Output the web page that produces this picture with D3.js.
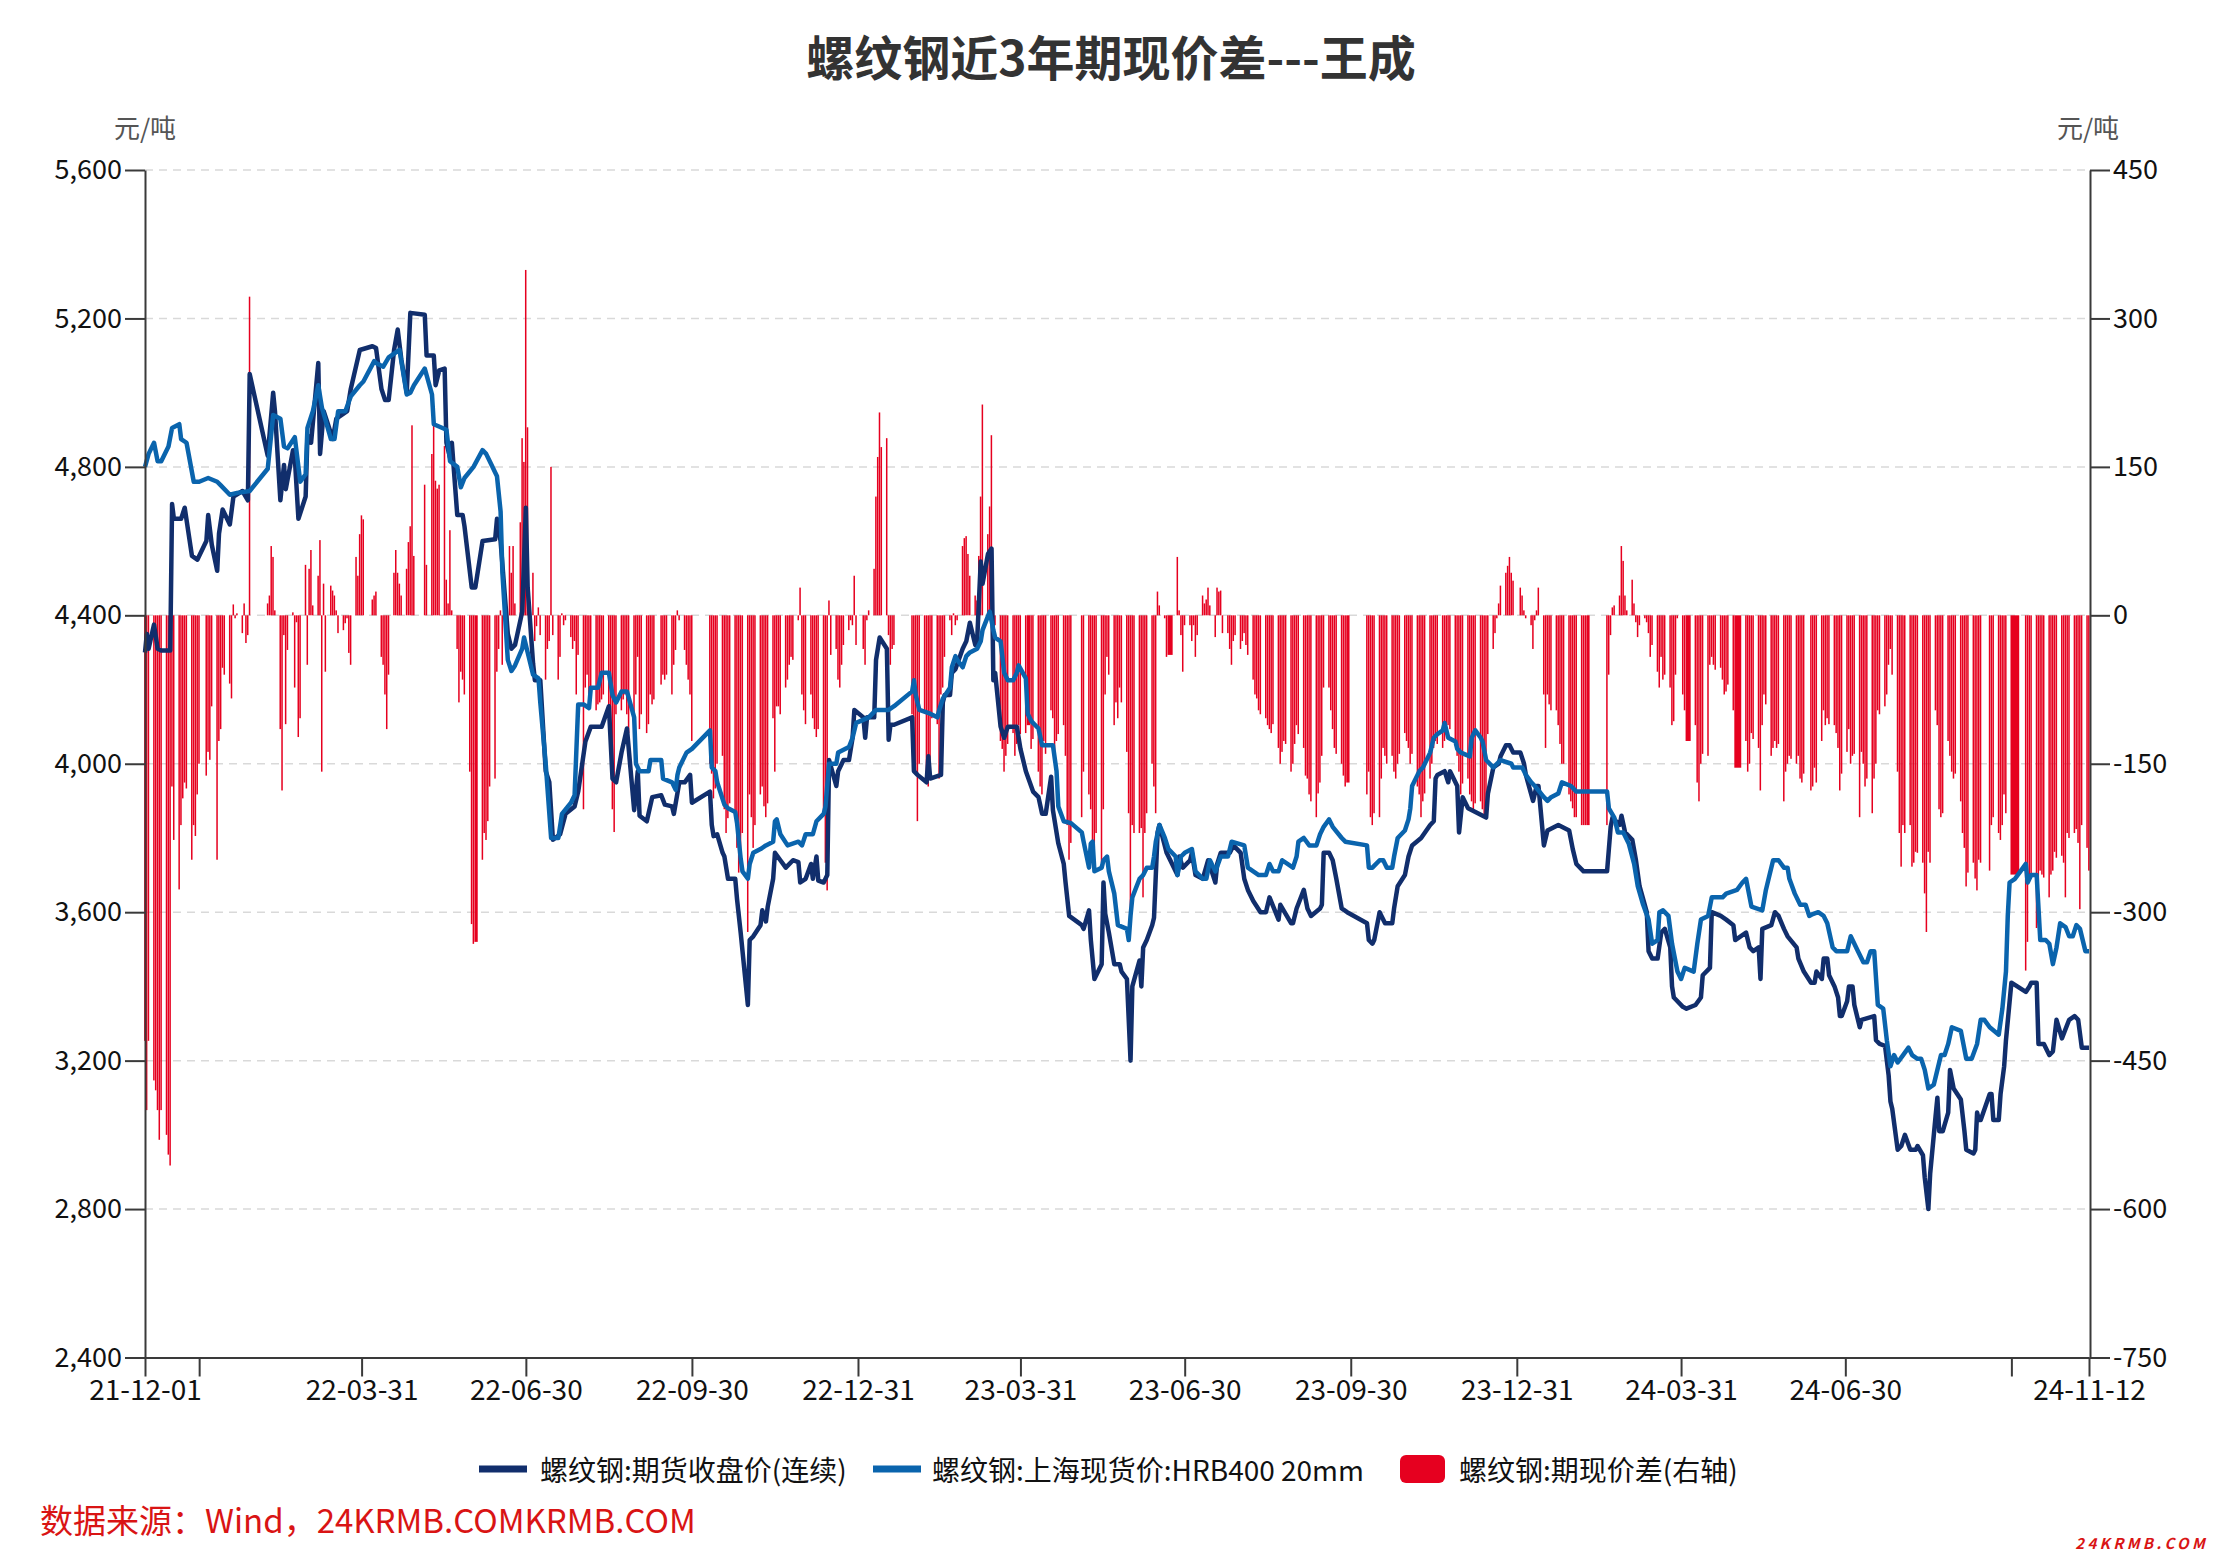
<!DOCTYPE html>
<html><head><meta charset="utf-8">
<script src="https://cdn.jsdelivr.net/npm/d3@7"></script>
<style>
body{margin:0;background:#fff}
svg{display:block}
text{font-family:"Noto Sans CJK SC","Noto Sans",sans-serif}
</style>
</head><body>
<svg id="chart" width="2222" height="1568"></svg>
<script>
// ---------------- DATA ----------------
const titleText = "螺纹钢近3年期现价差---王成";
const unitText = "元/吨";
const sourceText = "数据来源：Wind，24KRMB.COMKRMB.COM";
const watermarkText = "24KRMB.COM";
const seriesNames = ["螺纹钢:期货收盘价(连续)", "螺纹钢:上海现货价:HRB400 20mm", "螺纹钢:期现价差(右轴)"];
const leftTicks = [2400, 2800, 3200, 3600, 4000, 4400, 4800, 5200, 5600];
const rightTicks = [-750, -600, -450, -300, -150, 0, 150, 300, 450];
const xTickDates = ["21-12-01","21-12-31","22-03-31","22-06-30","22-09-30","22-12-31","23-03-31","23-06-30","23-09-30","23-12-31","24-03-31","24-06-30","24-09-30","24-11-12"];
const xTickLabels = ["21-12-01","","22-03-31","22-06-30","22-09-30","22-12-31","23-03-31","23-06-30","23-09-30","23-12-31","24-03-31","24-06-30","","24-11-12"];

// 螺纹钢:期货收盘价(连续)
const futures = [["21-12-01",4300],["21-12-02",4350],["21-12-03",4310],["21-12-06",4375],["21-12-08",4310],["21-12-10",4305],["21-12-15",4305],["21-12-16",4700],["21-12-17",4660],["21-12-21",4660],["21-12-23",4690],["21-12-27",4560],["21-12-30",4550],["22-01-04",4600],["22-01-05",4670],["22-01-07",4590],["22-01-10",4520],["22-01-11",4620],["22-01-13",4685],["22-01-17",4645],["22-01-19",4720],["22-01-24",4735],["22-01-27",4710],["22-01-28",5050],["22-02-07",4830],["22-02-10",5000],["22-02-11",4950],["22-02-14",4710],["22-02-16",4805],["22-02-17",4740],["22-02-21",4845],["22-02-22",4825],["22-02-24",4660],["22-02-28",4720],["22-03-01",4885],["22-03-03",4865],["22-03-07",5080],["22-03-08",4835],["22-03-10",4950],["22-03-15",4875],["22-03-17",4930],["22-03-23",4950],["22-03-25",5010],["22-03-30",5115],["22-04-06",5125],["22-04-08",5120],["22-04-11",5010],["22-04-13",4980],["22-04-15",4980],["22-04-18",5115],["22-04-20",5170],["22-04-22",5090],["22-04-25",5000],["22-04-27",5215],["22-05-05",5210],["22-05-06",5100],["22-05-10",5100],["22-05-11",5020],["22-05-13",5060],["22-05-16",5065],["22-05-17",4865],["22-05-19",4825],["22-05-20",4865],["22-05-23",4670],["22-05-26",4670],["22-05-27",4640],["22-05-31",4475],["22-06-02",4475],["22-06-06",4600],["22-06-13",4605],["22-06-14",4660],["22-06-16",4600],["22-06-20",4350],["22-06-22",4310],["22-06-24",4320],["22-06-28",4410],["22-06-30",4690],["22-07-01",4475],["22-07-04",4270],["22-07-05",4225],["22-07-08",4225],["22-07-11",3980],["22-07-13",3950],["22-07-15",3795],["22-07-19",3810],["22-07-22",3865],["22-07-27",3885],["22-07-29",3925],["22-08-02",4060],["22-08-05",4100],["22-08-11",4100],["22-08-15",4155],["22-08-17",3960],["22-08-19",3950],["22-08-22",4030],["22-08-25",4095],["22-08-29",3875],["22-08-31",3980],["22-09-01",3860],["22-09-05",3845],["22-09-08",3910],["22-09-13",3915],["22-09-15",3890],["22-09-19",3885],["22-09-20",3865],["22-09-23",3950],["22-09-26",3950],["22-09-29",3970],["22-09-30",3895],["22-10-10",3925],["22-10-11",3835],["22-10-12",3805],["22-10-14",3810],["22-10-17",3760],["22-10-18",3750],["22-10-20",3690],["22-10-24",3690],["22-10-25",3635],["22-10-27",3545],["22-10-31",3350],["22-11-01",3525],["22-11-03",3535],["22-11-07",3565],["22-11-08",3605],["22-11-10",3575],["22-11-11",3615],["22-11-14",3690],["22-11-15",3760],["22-11-18",3740],["22-11-21",3720],["22-11-25",3740],["22-11-28",3735],["22-11-29",3680],["22-12-02",3690],["22-12-05",3730],["22-12-06",3690],["22-12-08",3750],["22-12-09",3685],["22-12-12",3680],["22-12-14",3700],["22-12-15",4010],["22-12-19",3940],["22-12-20",3980],["22-12-23",4010],["22-12-26",4010],["22-12-28",4070],["22-12-29",4145],["23-01-03",4125],["23-01-04",4070],["23-01-05",4125],["23-01-09",4125],["23-01-10",4280],["23-01-12",4340],["23-01-16",4310],["23-01-17",4065],["23-01-18",4105],["23-01-20",4105],["23-01-30",4125],["23-01-31",3980],["23-02-02",3970],["23-02-07",3950],["23-02-08",4020],["23-02-09",3960],["23-02-15",3970],["23-02-16",4165],["23-02-17",4185],["23-02-20",4185],["23-02-21",4245],["23-02-23",4255],["23-02-27",4310],["23-03-01",4330],["23-03-03",4380],["23-03-06",4320],["23-03-07",4330],["23-03-09",4545],["23-03-10",4485],["23-03-13",4565],["23-03-15",4580],["23-03-16",4225],["23-03-17",4245],["23-03-20",4100],["23-03-22",4070],["23-03-24",4100],["23-03-29",4100],["23-03-31",4040],["23-04-03",3980],["23-04-07",3925],["23-04-10",3910],["23-04-12",3865],["23-04-14",3865],["23-04-17",3965],["23-04-18",3875],["23-04-21",3785],["23-04-24",3730],["23-04-25",3680],["23-04-27",3590],["23-05-04",3565],["23-05-05",3555],["23-05-08",3605],["23-05-09",3525],["23-05-11",3420],["23-05-15",3460],["23-05-16",3680],["23-05-17",3595],["23-05-19",3545],["23-05-22",3460],["23-05-25",3460],["23-05-26",3440],["23-05-29",3420],["23-05-31",3200],["23-06-01",3400],["23-06-05",3470],["23-06-06",3400],["23-06-07",3505],["23-06-09",3525],["23-06-12",3565],["23-06-13",3585],["23-06-15",3815],["23-06-16",3835],["23-06-20",3760],["23-06-26",3700],["23-06-27",3750],["23-06-29",3720],["23-07-03",3740],["23-07-04",3760],["23-07-06",3700],["23-07-10",3690],["23-07-13",3740],["23-07-17",3680],["23-07-18",3730],["23-07-20",3760],["23-07-25",3760],["23-07-27",3780],["23-07-31",3760],["23-08-02",3690],["23-08-04",3660],["23-08-07",3630],["23-08-11",3600],["23-08-14",3600],["23-08-16",3640],["23-08-21",3580],["23-08-22",3620],["23-08-28",3570],["23-08-29",3570],["23-08-31",3610],["23-09-04",3660],["23-09-06",3610],["23-09-08",3590],["23-09-13",3610],["23-09-14",3620],["23-09-15",3760],["23-09-18",3760],["23-09-20",3740],["23-09-22",3690],["23-09-25",3610],["23-09-28",3600],["23-10-09",3570],["23-10-10",3525],["23-10-12",3515],["23-10-13",3525],["23-10-16",3600],["23-10-17",3590],["23-10-19",3570],["23-10-23",3570],["23-10-24",3610],["23-10-26",3670],["23-10-30",3700],["23-11-01",3750],["23-11-03",3780],["23-11-08",3800],["23-11-13",3835],["23-11-15",3845],["23-11-16",3960],["23-11-17",3970],["23-11-21",3980],["23-11-23",3950],["23-11-24",3980],["23-11-28",3940],["23-11-29",3815],["23-12-01",3910],["23-12-04",3880],["23-12-14",3855],["23-12-15",3920],["23-12-18",3990],["23-12-21",4000],["23-12-22",4020],["23-12-25",4050],["23-12-27",4050],["23-12-29",4030],["24-01-02",4030],["24-01-04",4000],["24-01-05",3970],["24-01-09",3900],["24-01-11",3940],["24-01-12",3940],["24-01-15",3780],["24-01-17",3820],["24-01-23",3835],["24-01-29",3820],["24-01-31",3770],["24-02-02",3730],["24-02-06",3710],["24-02-08",3710],["24-02-19",3710],["24-02-21",3830],["24-02-22",3855],["24-02-26",3835],["24-02-27",3860],["24-02-29",3815],["24-03-04",3795],["24-03-06",3740],["24-03-08",3670],["24-03-12",3600],["24-03-13",3495],["24-03-15",3475],["24-03-18",3475],["24-03-20",3545],["24-03-22",3555],["24-03-25",3505],["24-03-26",3400],["24-03-27",3370],["24-04-01",3345],["24-04-03",3340],["24-04-08",3350],["24-04-11",3370],["24-04-12",3430],["24-04-16",3450],["24-04-17",3600],["24-04-22",3590],["24-04-25",3580],["24-04-29",3565],["24-04-30",3525],["24-05-06",3545],["24-05-08",3505],["24-05-10",3495],["24-05-13",3505],["24-05-14",3420],["24-05-15",3555],["24-05-20",3565],["24-05-22",3600],["24-05-24",3590],["24-05-27",3555],["24-05-29",3535],["24-06-03",3505],["24-06-04",3475],["24-06-07",3440],["24-06-11",3410],["24-06-13",3410],["24-06-14",3440],["24-06-17",3420],["24-06-18",3475],["24-06-20",3475],["24-06-21",3430],["24-06-24",3400],["24-06-26",3370],["24-06-27",3320],["24-06-28",3320],["24-07-01",3360],["24-07-02",3400],["24-07-04",3400],["24-07-05",3350],["24-07-08",3290],["24-07-09",3310],["24-07-16",3320],["24-07-17",3255],["24-07-19",3245],["24-07-22",3240],["24-07-24",3160],["24-07-25",3090],["24-07-26",3070],["24-07-29",2960],["24-07-31",2970],["24-08-02",3000],["24-08-05",2960],["24-08-06",2960],["24-08-08",2960],["24-08-09",2970],["24-08-12",2945],["24-08-13",2885],["24-08-15",2800],["24-08-16",2895],["24-08-19",3050],["24-08-20",3100],["24-08-21",3010],["24-08-23",3010],["24-08-26",3060],["24-08-27",3175],["24-08-29",3125],["24-09-02",3095],["24-09-04",3010],["24-09-05",2960],["24-09-09",2950],["24-09-10",2960],["24-09-11",3060],["24-09-12",3040],["24-09-13",3040],["24-09-18",3110],["24-09-19",3110],["24-09-20",3040],["24-09-23",3040],["24-09-24",3110],["24-09-26",3185],["24-09-27",3255],["24-09-30",3410],["24-10-08",3385],["24-10-10",3400],["24-10-11",3410],["24-10-14",3410],["24-10-15",3245],["24-10-18",3245],["24-10-21",3215],["24-10-23",3225],["24-10-25",3310],["24-10-28",3260],["24-11-01",3310],["24-11-04",3320],["24-11-06",3310],["24-11-08",3235],["24-11-12",3235]];

// 螺纹钢:上海现货价:HRB400 20mm
const spot = [["21-12-01",4800],["21-12-03",4835],["21-12-06",4865],["21-12-08",4815],["21-12-10",4815],["21-12-14",4855],["21-12-16",4905],["21-12-20",4915],["21-12-21",4875],["21-12-24",4865],["21-12-28",4760],["21-12-31",4760],["22-01-05",4770],["22-01-10",4760],["22-01-12",4750],["22-01-17",4725],["22-01-21",4730],["22-01-28",4735],["22-02-07",4795],["22-02-10",4940],["22-02-14",4930],["22-02-16",4855],["22-02-18",4850],["22-02-22",4880],["22-02-25",4760],["22-02-28",4780],["22-03-01",4905],["22-03-04",4950],["22-03-07",5020],["22-03-09",4960],["22-03-14",4875],["22-03-16",4875],["22-03-18",4950],["22-03-22",4950],["22-03-25",4990],["22-03-30",5020],["22-04-01",5030],["22-04-07",5085],["22-04-08",5080],["22-04-12",5070],["22-04-15",5095],["22-04-21",5115],["22-04-25",4995],["22-04-27",5000],["22-04-29",5020],["22-05-05",5065],["22-05-09",4995],["22-05-10",4915],["22-05-17",4900],["22-05-19",4815],["22-05-23",4800],["22-05-25",4745],["22-05-27",4770],["22-06-01",4800],["22-06-06",4845],["22-06-08",4835],["22-06-10",4815],["22-06-14",4775],["22-06-16",4680],["22-06-17",4515],["22-06-20",4280],["22-06-22",4250],["22-06-24",4265],["22-06-28",4310],["22-06-29",4340],["22-07-01",4300],["22-07-04",4240],["22-07-07",4230],["22-07-08",4165],["22-07-11",4000],["22-07-14",3800],["22-07-18",3800],["22-07-20",3865],["22-07-25",3895],["22-07-27",3915],["22-07-29",4160],["22-08-01",4160],["22-08-04",4150],["22-08-05",4205],["22-08-09",4205],["22-08-11",4245],["22-08-15",4245],["22-08-17",4185],["22-08-19",4165],["22-08-22",4195],["22-08-25",4195],["22-08-29",4125],["22-08-30",4000],["22-09-01",3980],["22-09-06",3980],["22-09-07",4010],["22-09-13",4010],["22-09-14",3960],["22-09-19",3950],["22-09-21",3930],["22-09-22",3970],["22-09-23",3990],["22-09-27",4030],["22-09-30",4040],["22-10-10",4090],["22-10-11",3990],["22-10-13",3980],["22-10-14",3950],["22-10-18",3890],["22-10-20",3880],["22-10-24",3870],["22-10-25",3840],["22-10-27",3745],["22-10-28",3710],["22-10-31",3690],["22-11-01",3730],["22-11-03",3760],["22-11-07",3770],["22-11-10",3780],["22-11-14",3790],["22-11-15",3845],["22-11-16",3850],["22-11-18",3810],["22-11-22",3780],["22-11-28",3790],["22-11-30",3780],["22-12-02",3810],["22-12-06",3810],["22-12-08",3845],["22-12-12",3865],["22-12-13",3885],["22-12-15",4000],["22-12-19",4000],["22-12-20",4030],["22-12-26",4045],["22-12-28",4070],["22-12-30",4110],["23-01-06",4125],["23-01-10",4145],["23-01-17",4145],["23-01-20",4155],["23-01-30",4195],["23-01-31",4225],["23-02-01",4185],["23-02-03",4145],["23-02-09",4135],["23-02-13",4125],["23-02-14",4145],["23-02-16",4175],["23-02-20",4205],["23-02-21",4260],["23-02-23",4290],["23-02-24",4280],["23-02-27",4260],["23-03-01",4290],["23-03-03",4300],["23-03-07",4310],["23-03-09",4330],["23-03-10",4360],["23-03-14",4410],["23-03-16",4360],["23-03-17",4340],["23-03-20",4330],["23-03-22",4245],["23-03-24",4225],["23-03-27",4225],["23-03-29",4245],["23-03-30",4265],["23-04-03",4230],["23-04-04",4135],["23-04-06",4115],["23-04-10",4095],["23-04-12",4050],["23-04-18",4050],["23-04-20",3980],["23-04-21",3885],["23-04-24",3845],["23-04-28",3840],["23-05-04",3815],["23-05-05",3790],["23-05-08",3720],["23-05-09",3785],["23-05-10",3790],["23-05-11",3710],["23-05-15",3720],["23-05-16",3740],["23-05-18",3750],["23-05-19",3710],["23-05-22",3650],["23-05-24",3565],["23-05-29",3555],["23-05-30",3525],["23-05-31",3590],["23-06-01",3640],["23-06-05",3690],["23-06-07",3700],["23-06-09",3720],["23-06-12",3720],["23-06-13",3750],["23-06-14",3790],["23-06-16",3835],["23-06-19",3800],["23-06-21",3770],["23-06-25",3750],["23-06-26",3700],["23-06-28",3750],["23-06-30",3760],["23-07-04",3770],["23-07-06",3710],["23-07-10",3690],["23-07-12",3690],["23-07-14",3740],["23-07-17",3710],["23-07-20",3750],["23-07-24",3750],["23-07-26",3790],["23-08-02",3780],["23-08-04",3720],["23-08-07",3710],["23-08-10",3700],["23-08-14",3700],["23-08-16",3730],["23-08-18",3710],["23-08-21",3710],["23-08-23",3740],["23-08-29",3720],["23-08-31",3750],["23-09-01",3790],["23-09-04",3800],["23-09-07",3780],["23-09-11",3780],["23-09-13",3810],["23-09-15",3830],["23-09-18",3850],["23-09-20",3830],["23-09-25",3800],["23-09-27",3790],["23-10-09",3780],["23-10-10",3720],["23-10-12",3720],["23-10-16",3740],["23-10-18",3740],["23-10-20",3720],["23-10-23",3720],["23-10-24",3750],["23-10-26",3800],["23-10-30",3820],["23-11-01",3850],["23-11-02",3880],["23-11-03",3940],["23-11-06",3970],["23-11-07",3980],["23-11-09",3990],["23-11-13",4030],["23-11-15",4070],["23-11-17",4080],["23-11-20",4090],["23-11-21",4110],["23-11-23",4070],["23-11-27",4060],["23-11-28",4040],["23-11-30",4030],["23-12-05",4020],["23-12-06",4070],["23-12-08",4090],["23-12-11",4070],["23-12-12",4060],["23-12-14",4010],["23-12-18",3990],["23-12-20",4000],["23-12-22",4010],["23-12-28",4000],["23-12-29",3990],["24-01-03",3990],["24-01-05",3970],["24-01-08",3950],["24-01-10",3940],["24-01-15",3910],["24-01-17",3900],["24-01-19",3910],["24-01-23",3920],["24-01-25",3950],["24-01-30",3940],["24-02-02",3925],["24-02-19",3925],["24-02-20",3880],["24-02-23",3855],["24-02-25",3815],["24-02-28",3815],["24-03-02",3785],["24-03-05",3730],["24-03-07",3670],["24-03-10",3620],["24-03-13",3580],["24-03-15",3515],["24-03-18",3525],["24-03-19",3600],["24-03-21",3605],["24-03-24",3590],["24-03-26",3515],["24-03-29",3440],["24-03-31",3420],["24-04-02",3450],["24-04-07",3440],["24-04-09",3515],["24-04-11",3580],["24-04-15",3590],["24-04-17",3640],["24-04-23",3640],["24-04-25",3650],["24-05-01",3660],["24-05-04",3680],["24-05-06",3690],["24-05-09",3615],["24-05-15",3605],["24-05-17",3660],["24-05-19",3700],["24-05-21",3740],["24-05-24",3740],["24-05-27",3720],["24-05-29",3720],["24-05-30",3690],["24-06-02",3650],["24-06-05",3620],["24-06-08",3620],["24-06-10",3590],["24-06-12",3595],["24-06-15",3600],["24-06-18",3590],["24-06-20",3570],["24-06-23",3505],["24-06-25",3495],["24-07-01",3495],["24-07-03",3535],["24-07-04",3525],["24-07-07",3495],["24-07-10",3465],["24-07-12",3465],["24-07-14",3495],["24-07-16",3495],["24-07-18",3350],["24-07-21",3340],["24-07-23",3255],["24-07-25",3185],["24-07-27",3215],["24-07-29",3195],["24-08-01",3215],["24-08-04",3235],["24-08-06",3215],["24-08-09",3205],["24-08-11",3205],["24-08-13",3175],["24-08-15",3125],["24-08-18",3135],["24-08-20",3175],["24-08-22",3215],["24-08-24",3215],["24-08-26",3245],["24-08-28",3290],["24-09-02",3280],["24-09-05",3205],["24-09-08",3205],["24-09-11",3245],["24-09-13",3310],["24-09-15",3310],["24-09-18",3290],["24-09-23",3270],["24-09-25",3340],["24-09-27",3440],["24-09-28",3590],["24-09-29",3680],["24-10-02",3690],["24-10-05",3710],["24-10-08",3730],["24-10-09",3680],["24-10-11",3700],["24-10-14",3700],["24-10-16",3525],["24-10-19",3525],["24-10-21",3515],["24-10-23",3460],["24-10-25",3505],["24-10-27",3570],["24-10-30",3560],["24-11-01",3535],["24-11-03",3535],["24-11-05",3565],["24-11-07",3555],["24-11-10",3495],["24-11-12",3495]];

// 螺纹钢:期现价差(右轴)
const spread = [["21-12-01",-430],["21-12-02",-500],["21-12-03",-430],["21-12-06",-470],["21-12-07",-480],["21-12-08",-500],["21-12-09",-530],["21-12-10",-500],["21-12-13",-525],["21-12-14",-545],["21-12-15",-556],["21-12-16",-173],["21-12-17",-227],["21-12-20",-277],["21-12-21",-212],["21-12-22",-185],["21-12-23",-169],["21-12-24",-175],["21-12-27",-247],["21-12-28",-212],["21-12-29",-223],["21-12-30",-181],["21-12-31",-150],
["22-01-04",-162],["22-01-05",-138],["22-01-06",-146],["22-01-07",-92],["22-01-10",-247],["22-01-11",-127],["22-01-12",-115],["22-01-13",-53],["22-01-14",-60],["22-01-17",-69],["22-01-18",-84],["22-01-19",11],["22-01-20",-3],["22-01-21",2],["22-01-24",-18],["22-01-25",12],["22-01-26",-28],["22-01-27",-20],["22-01-28",322],
["22-02-07",12],["22-02-08",20],["22-02-09",70],["22-02-10",59],["22-02-11",5],["22-02-14",-115],["22-02-15",-177],["22-02-16",-20],["22-02-17",-110],["22-02-18",-35],["22-02-21",3],["22-02-22",-73],["22-02-23",-7],["22-02-24",-123],["22-02-25",-104],["22-02-28",51],
["22-03-01",-50],["22-03-02",47],["22-03-03",66],["22-03-04",10],["22-03-07",40],["22-03-08",76],["22-03-09",-158],["22-03-10",32],["22-03-11",-57],["22-03-14",30],["22-03-15",25],["22-03-16",20],["22-03-17",5],["22-03-18",-18],["22-03-21",-15],["22-03-22",-8],["22-03-23",-3],["22-03-24",-38],["22-03-25",-50],["22-03-28",59],["22-03-29",40],["22-03-30",82],["22-03-31",101],
["22-04-01",97],["22-04-06",16],["22-04-07",20],["22-04-08",24],["22-04-11",-42],["22-04-12",-50],["22-04-13",-80],["22-04-14",-115],["22-04-15",-60],["22-04-18",43],["22-04-19",66],["22-04-20",43],["22-04-21",32],["22-04-22",20],["22-04-25",47],["22-04-26",74],["22-04-27",90],["22-04-28",192],["22-04-29",60],
["22-05-05",132],["22-05-06",51],["22-05-09",163],["22-05-10",194],["22-05-11",136],["22-05-12",128],["22-05-13",132],["22-05-16",171],["22-05-17",36],["22-05-18",12],["22-05-19",86],["22-05-20",5],["22-05-23",-34],["22-05-24",-88],["22-05-25",-57],["22-05-26",-65],["22-05-27",-80],["22-05-30",-158],["22-05-31",-312],
["22-06-01",-332],["22-06-02",-330],["22-06-06",-247],["22-06-07",-220],["22-06-08",-227],["22-06-09",-208],["22-06-10",-173],["22-06-13",-165],["22-06-14",-57],["22-06-15",-34],["22-06-16",5],["22-06-17",-50],["22-06-20",-19],["22-06-21",70],["22-06-22",43],["22-06-23",70],["22-06-24",12],["22-06-27",94],["22-06-28",179],["22-06-29",155],["22-06-30",349],
["22-07-01",190],["22-07-04",43],["22-07-05",-26],["22-07-06",-11],["22-07-07",8],["22-07-08",-20],["22-07-11",-65],["22-07-12",-34],["22-07-13",-26],["22-07-14",150],["22-07-15",-20],["22-07-18",-65],["22-07-19",-42],["22-07-20",2],["22-07-21",-10],["22-07-22",-5],["22-07-25",-22],["22-07-26",-34],["22-07-27",-26],["22-07-28",-80],["22-07-29",-40],
["22-08-01",-196],["22-08-02",-73],["22-08-03",-60],["22-08-04",-80],["22-08-05",-75],["22-08-08",-96],["22-08-09",-90],["22-08-10",-88],["22-08-11",-85],["22-08-12",-80],["22-08-15",-96],["22-08-16",-120],["22-08-17",-196],["22-08-18",-219],["22-08-19",-100],["22-08-22",-96],["22-08-23",-85],["22-08-24",-80],["22-08-25",-100],["22-08-26",-119],["22-08-29",-111],["22-08-30",-80],["22-08-31",-42],
["22-09-01",-115],["22-09-02",-100],["22-09-05",-119],["22-09-06",-110],["22-09-07",-80],["22-09-08",-90],["22-09-09",-85],["22-09-13",-70],["22-09-14",-60],["22-09-15",-65],["22-09-16",-60],["22-09-19",-80],["22-09-20",-50],["22-09-21",-35],["22-09-22",5],["22-09-23",-5],["22-09-26",-35],["22-09-27",-50],["22-09-28",-65],["22-09-29",-80],["22-09-30",-127],
["22-10-10",-150],["22-10-11",-160],["22-10-12",-185],["22-10-13",-175],["22-10-14",-150],["22-10-17",-142],["22-10-18",-196],["22-10-19",-220],["22-10-20",-205],["22-10-21",-190],["22-10-24",-205],["22-10-25",-235],["22-10-26",-260],["22-10-27",-250],["22-10-28",-220],["22-10-31",-320],
["22-11-01",-181],["22-11-02",-204],["22-11-03",-235],["22-11-04",-212],["22-11-07",-181],["22-11-08",-173],["22-11-09",-193],["22-11-10",-204],["22-11-11",-190],["22-11-14",-104],["22-11-15",-158],["22-11-16",-92],["22-11-17",-92],["22-11-18",-100],["22-11-21",-73],["22-11-22",-65],["22-11-23",-50],["22-11-24",-42],["22-11-25",-45],["22-11-28",-5],["22-11-29",28],["22-11-30",-80],
["22-12-01",-96],["22-12-02",-110],["22-12-05",-80],["22-12-06",-104],["22-12-07",-115],["22-12-08",-123],["22-12-09",-115],["22-12-12",-200],["22-12-13",-250],["22-12-14",-278],["22-12-15",15],["22-12-16",-40],["22-12-19",-34],["22-12-20",-65],["22-12-21",-73],["22-12-22",-50],["22-12-23",-30],["22-12-26",-15],["22-12-27",-5],["22-12-28",-10],["22-12-29",40],["22-12-30",-30],
["23-01-03",-34],["23-01-04",-50],["23-01-05",-5],["23-01-06",5],["23-01-09",47],["23-01-10",120],["23-01-11",160],["23-01-12",205],["23-01-13",170],["23-01-16",179],["23-01-17",-20],["23-01-18",-50],["23-01-19",-34],["23-01-20",-30],["23-01-30",-100],["23-01-31",-130],
["23-02-01",-160],["23-02-02",-208],["23-02-03",-150],["23-02-06",-96],["23-02-07",-165],["23-02-08",-173],["23-02-09",-150],["23-02-10",-104],["23-02-13",-110],["23-02-14",-165],["23-02-15",-80],["23-02-16",-73],["23-02-17",-42],["23-02-20",-5],["23-02-21",-20],["23-02-22",2],["23-02-23",-10],["23-02-24",-5],["23-02-27",70],["23-02-28",78],
["23-03-01",80],["23-03-02",62],["23-03-03",40],["23-03-06",20],["23-03-07",15],["23-03-08",60],["23-03-09",120],["23-03-10",213],["23-03-13",82],["23-03-14",110],["23-03-15",182],["23-03-16",-5],["23-03-17",-10],["23-03-20",-127],["23-03-21",-135],["23-03-22",-158],["23-03-23",-142],["23-03-24",-130],["23-03-27",-119],["23-03-28",-142],["23-03-29",-130],["23-03-30",-111],["23-03-31",-120],
["23-04-03",-119],["23-04-04",-111],["23-04-06",-135],["23-04-07",-125],["23-04-10",-158],["23-04-11",-173],["23-04-12",-181],["23-04-13",-127],["23-04-14",-140],["23-04-17",-96],["23-04-18",-104],["23-04-19",-138],["23-04-20",-127],["23-04-21",-120],["23-04-24",-111],["23-04-25",-142],["23-04-26",-212],["23-04-27",-247],["23-04-28",-230],
["23-05-04",-204],["23-05-05",-158],["23-05-08",-181],["23-05-09",-196],["23-05-10",-227],["23-05-11",-235],["23-05-12",-220],["23-05-15",-250],["23-05-16",-196],["23-05-17",-80],["23-05-18",-42],["23-05-19",-60],["23-05-22",-111],["23-05-23",-88],["23-05-24",-104],["23-05-25",-73],["23-05-26",-88],["23-05-29",-138],["23-05-30",-200],["23-05-31",-312],
["23-06-01",-212],["23-06-02",-220],["23-06-05",-220],["23-06-06",-215],["23-06-07",-285],["23-06-08",-220],["23-06-09",-200],["23-06-12",-150],["23-06-13",-173],["23-06-14",-200],["23-06-15",24],["23-06-16",10],["23-06-19",-3],["23-06-20",-42],["23-06-21",-40],["23-06-26",59],["23-06-27",5],["23-06-28",-20],["23-06-29",-57],["23-06-30",-10],
["23-07-03",-10],["23-07-04",-26],["23-07-05",-10],["23-07-06",-42],["23-07-07",-20],["23-07-10",20],["23-07-11",12],["23-07-12",16],["23-07-13",28],["23-07-14",10],["23-07-17",-22],["23-07-18",28],["23-07-19",24],["23-07-20",25],["23-07-21",-18],["23-07-24",-18],["23-07-25",-34],["23-07-26",-50],["23-07-27",-26],["23-07-28",-20],["23-07-31",-34],
["23-08-01",-26],["23-08-02",-18],["23-08-03",-30],["23-08-04",-40],["23-08-07",-65],["23-08-08",-80],["23-08-09",-84],["23-08-10",-96],["23-08-11",-100],["23-08-14",-104],["23-08-15",-111],["23-08-16",-115],["23-08-17",-119],["23-08-18",-110],["23-08-21",-134],["23-08-22",-150],["23-08-23",-138],["23-08-24",-127],["23-08-25",-130],["23-08-28",-158],["23-08-29",-150],["23-08-30",-130],["23-08-31",-111],
["23-09-01",-120],["23-09-04",-134],["23-09-05",-162],["23-09-06",-165],["23-09-07",-181],["23-09-08",-188],["23-09-11",-204],["23-09-12",-180],["23-09-13",-169],["23-09-14",-142],["23-09-15",-73],["23-09-18",-73],["23-09-19",-96],["23-09-20",-115],["23-09-21",-134],["23-09-22",-140],["23-09-25",-150],["23-09-26",-162],["23-09-27",-173],["23-09-28",-169],
["23-10-09",-181],["23-10-10",-158],["23-10-11",-204],["23-10-12",-212],["23-10-13",-200],["23-10-16",-204],["23-10-17",-165],["23-10-18",-134],["23-10-19",-142],["23-10-20",-150],["23-10-23",-142],["23-10-24",-158],["23-10-25",-165],["23-10-26",-150],["23-10-27",-140],["23-10-30",-119],["23-10-31",-127],
["23-11-01",-134],["23-11-02",-150],["23-11-03",-140],["23-11-06",-173],["23-11-07",-181],["23-11-08",-204],["23-11-09",-188],["23-11-10",-180],["23-11-13",-165],["23-11-14",-150],["23-11-15",-134],["23-11-16",-127],["23-11-17",-130],["23-11-20",-134],["23-11-21",-127],["23-11-22",-119],["23-11-23",-111],["23-11-24",-115],["23-11-27",-127],["23-11-28",-142],["23-11-29",-158],["23-11-30",-181],
["23-12-01",-170],["23-12-04",-165],["23-12-05",-181],["23-12-06",-188],["23-12-07",-196],["23-12-08",-190],["23-12-11",-188],["23-12-12",-196],["23-12-13",-204],["23-12-14",-196],["23-12-15",-120],["23-12-18",-34],["23-12-19",-18],["23-12-20",-3],["23-12-21",12],["23-12-22",30],["23-12-25",43],["23-12-26",50],["23-12-27",59],["23-12-28",43],["23-12-29",35],
["24-01-02",28],["24-01-03",20],["24-01-04",5],["24-01-05",-3],["24-01-08",-10],["24-01-09",-34],["24-01-10",-5],["24-01-11",5],["24-01-12",28],["24-01-15",-80],["24-01-16",-134],["24-01-17",-80],["24-01-18",-90],["24-01-19",-96],["24-01-22",-96],["24-01-23",-111],["24-01-24",-130],["24-01-25",-150],["24-01-26",-150],["24-01-29",-181],["24-01-30",-188],["24-01-31",-195],
["24-02-01",-204],["24-02-02",-204],["24-02-05",-212],["24-02-06",-212],["24-02-07",-212],["24-02-08",-212],["24-02-19",-212],["24-02-20",-60],["24-02-21",-20],["24-02-22",8],["24-02-23",10],["24-02-26",20],["24-02-27",70],["24-02-28",55],["24-02-29",20],
["24-03-01",5],["24-03-04",36],["24-03-05",12],["24-03-06",-7],["24-03-07",-22],["24-03-08",-10],["24-03-11",-3],["24-03-12",-7],["24-03-13",-18],["24-03-14",-42],["24-03-15",-30],["24-03-18",-57],["24-03-19",-73],["24-03-20",-42],["24-03-21",-65],["24-03-22",-60],["24-03-25",-73],["24-03-26",-111],["24-03-27",-107],["24-03-28",-60],["24-03-29",-3],
["24-04-01",-80],["24-04-02",-96],["24-04-03",-127],["24-04-08",-111],["24-04-09",-169],["24-04-10",-188],["24-04-11",-150],["24-04-12",-140],["24-04-15",-142],["24-04-16",-50],["24-04-17",-42],["24-04-18",-50],["24-04-19",-55],["24-04-22",-53],["24-04-23",-65],["24-04-24",-80],["24-04-25",-77],["24-04-26",-70],["24-04-29",-96],["24-04-30",-154],
["24-05-06",-127],["24-05-07",-158],["24-05-08",-150],["24-05-09",-119],["24-05-10",-125],["24-05-13",-134],["24-05-14",-177],["24-05-15",-111],["24-05-16",-80],["24-05-17",-90],["24-05-20",-142],["24-05-21",-134],["24-05-22",-127],["24-05-23",-134],["24-05-24",-130],["24-05-27",-188],["24-05-28",-158],["24-05-29",-150],["24-05-30",-142],["24-05-31",-145],
["24-06-03",-150],["24-06-04",-142],["24-06-05",-165],["24-06-06",-169],["24-06-07",-160],["24-06-11",-177],["24-06-12",-173],["24-06-13",-154],["24-06-14",-169],["24-06-17",-127],["24-06-18",-96],["24-06-19",-111],["24-06-20",-104],["24-06-21",-110],["24-06-24",-111],["24-06-25",-119],["24-06-26",-134],["24-06-27",-177],["24-06-28",-160],
["24-07-01",-138],["24-07-02",-115],["24-07-03",-150],["24-07-04",-142],["24-07-05",-140],["24-07-08",-204],["24-07-09",-138],["24-07-10",-150],["24-07-11",-173],["24-07-12",-165],["24-07-15",-200],["24-07-16",-165],["24-07-17",-150],["24-07-18",-96],["24-07-19",-100],["24-07-22",-92],["24-07-23",-80],["24-07-24",-50],["24-07-25",-34],["24-07-26",-60],["24-07-29",-158],["24-07-30",-220],["24-07-31",-254],
["24-08-01",-212],["24-08-02",-220],["24-08-05",-212],["24-08-06",-254],["24-08-07",-250],["24-08-08",-239],["24-08-09",-240],["24-08-12",-250],["24-08-13",-281],["24-08-14",-320],["24-08-15",-239],["24-08-16",-250],["24-08-19",-96],["24-08-20",-111],["24-08-21",-196],["24-08-22",-204],["24-08-23",-200],["24-08-26",-127],["24-08-27",-142],["24-08-28",-158],["24-08-29",-165],["24-08-30",-160],
["24-09-02",-188],["24-09-03",-220],["24-09-04",-235],["24-09-05",-274],["24-09-06",-260],["24-09-09",-250],["24-09-10",-266],["24-09-11",-278],["24-09-12",-247],["24-09-13",-250],["24-09-18",-258],["24-09-19",-212],["24-09-20",-204],["24-09-23",-220],["24-09-24",-227],["24-09-25",-212],["24-09-26",-181],["24-09-27",-200],["24-09-30",-262],
["24-10-08",-359],["24-10-09",-330],["24-10-10",-270],["24-10-11",-265],["24-10-14",-316],["24-10-15",-274],["24-10-16",-258],["24-10-17",-262],["24-10-18",-265],["24-10-21",-285],["24-10-22",-262],["24-10-23",-258],["24-10-24",-239],["24-10-25",-245],["24-10-28",-243],["24-10-29",-250],["24-10-30",-285],["24-10-31",-220],
["24-11-01",-225],["24-11-04",-220],["24-11-05",-216],["24-11-06",-230],["24-11-07",-297],["24-11-08",-212],["24-11-11",-235],["24-11-12",-258]];

// ---------------- STYLE / LAYOUT ----------------
const colors = {futures: "#112e6c", spot: "#0a64ad", spread: "#e6001f", axis: "#3a3a3a", grid: "#d9d9d9"};
const plot = {left: 145, right: 2090, top: 170, bottom: 1357.5};

const parse = d3.timeParse("%y-%m-%d");
const svg = d3.select("#chart");
svg.append("rect").attr("width", 2222).attr("height", 1568).attr("fill", "#fff");

const x = d3.scaleTime().domain([parse(xTickDates[0]), parse(xTickDates[xTickDates.length - 1])]).range([plot.left, plot.right - 1]);
const yL = d3.scaleLinear().domain([leftTicks[0], leftTicks[leftTicks.length - 1]]).range([plot.bottom, plot.top]);
const yR = d3.scaleLinear().domain([rightTicks[0], rightTicks[rightTicks.length - 1]]).range([plot.bottom, plot.top]);

// grid
svg.append("g").selectAll("line").data(leftTicks.slice(1)).join("line")
  .attr("x1", plot.left).attr("x2", plot.right)
  .attr("y1", d => yL(d)).attr("y2", d => yL(d))
  .attr("stroke", colors.grid).attr("stroke-width", 1.5).attr("stroke-dasharray", "8,6");

// bars
const dayW = x(d3.timeDay.offset(x.domain()[0], 1)) - x(x.domain()[0]);
const bars = spread.map(([d, v]) => ({date: parse(d), v}));
bars.forEach((b, i) => {
  const sat = d3.timeSaturday.ceil(d3.timeDay.offset(b.date, 1));
  let end = i < bars.length - 1 ? bars[i + 1].date : d3.timeDay.offset(b.date, 1);
  if (end > sat) end = sat;
  b.x0 = x(b.date) - dayW / 2;
  b.x1 = x(end) - dayW / 2;
});
svg.append("g").selectAll("rect").data(bars).join("rect")
  .attr("x", b => b.x0)
  .attr("width", b => Math.max(0.8, b.x1 - b.x0 - 0.3))
  .attr("y", b => Math.min(yR(0), yR(b.v)))
  .attr("height", b => Math.abs(yR(b.v) - yR(0)))
  .attr("fill", colors.spread);

// lines
const lineL = d3.line().x(d => x(parse(d[0]))).y(d => yL(d[1]));
svg.append("path").datum(futures).attr("d", lineL).attr("fill", "none")
  .attr("stroke", colors.futures).attr("stroke-width", 4.5).attr("stroke-linejoin", "round");
svg.append("path").datum(spot).attr("d", lineL).attr("fill", "none")
  .attr("stroke", colors.spot).attr("stroke-width", 4.5).attr("stroke-linejoin", "round");

// axes
function styleAxis(g) {
  g.select(".domain").attr("stroke", colors.axis).attr("stroke-width", 2);
  g.selectAll(".tick line").attr("stroke", colors.axis).attr("stroke-width", 2);
  g.selectAll(".tick text").attr("fill", "#111").attr("font-size", 27)
    .attr("font-family", '"Noto Sans CJK SC","Noto Sans",sans-serif');
}
svg.append("g").attr("transform", `translate(${plot.left},0)`)
  .call(d3.axisLeft(yL).tickValues(leftTicks).tickSize(20).tickSizeOuter(0).tickPadding(3).tickFormat(d3.format(",")))
  .call(styleAxis);
svg.append("g").attr("transform", `translate(${plot.right},0)`)
  .call(d3.axisRight(yR).tickValues(rightTicks).tickSize(20).tickSizeOuter(0).tickPadding(3).tickFormat(d => String(d)))
  .call(styleAxis);
svg.append("g").attr("transform", `translate(0,${plot.bottom})`)
  .call(d3.axisBottom(x).tickValues(xTickDates.map(parse)).tickSize(19).tickSizeOuter(0).tickPadding(4)
    .tickFormat((d, i) => xTickLabels[i]))
  .call(styleAxis)
  .call(g => g.selectAll(".tick text").attr("font-size", 28));

// title & units
svg.append("text").attr("x", 1111).attr("y", 55).attr("text-anchor", "middle").attr("dominant-baseline", "central")
  .attr("font-size", 48).attr("font-weight", 700).attr("fill", "#333").text(titleText);
svg.append("text").attr("x", plot.left).attr("y", 126).attr("text-anchor", "middle").attr("dominant-baseline", "central")
  .attr("font-size", 26).attr("fill", "#555").text(unitText);
svg.append("text").attr("x", plot.right - 2).attr("y", 126).attr("text-anchor", "middle").attr("dominant-baseline", "central")
  .attr("font-size", 26).attr("fill", "#555").text(unitText);

// legend
const legY = 1469;
const leg = svg.append("g");
const legPos = [{sx: 479, tx: 540}, {sx: 873, tx: 932}, {sx: 1400, tx: 1459}];
[colors.futures, colors.spot].forEach((c, i) => {
  leg.append("line").attr("x1", legPos[i].sx).attr("x2", legPos[i].sx + 48).attr("y1", legY).attr("y2", legY)
    .attr("stroke", c).attr("stroke-width", 7);
});
leg.append("rect").attr("x", legPos[2].sx).attr("y", legY - 14).attr("width", 45).attr("height", 28).attr("rx", 6)
  .attr("fill", colors.spread);
seriesNames.forEach((n, i) => {
  leg.append("text").attr("x", legPos[i].tx).attr("y", legY).attr("dominant-baseline", "central")
    .attr("font-size", 28).attr("fill", "#111").text(n);
});

// source & watermark
svg.append("text").attr("x", 40).attr("y", 1519).attr("dominant-baseline", "central")
  .attr("font-size", 33).attr("fill", "#d91414")
  .attr("font-family", '"Noto Sans CJK TC","Noto Sans CJK SC",sans-serif').text(sourceText);
svg.append("text").attr("x", 2208).attr("y", 1542).attr("text-anchor", "end").attr("dominant-baseline", "central")
  .attr("font-size", 15).attr("font-weight", 700).attr("font-style", "italic").attr("letter-spacing", 3.3)
  .attr("fill", "#d91414").attr("font-family", "DejaVu Sans, sans-serif").text(watermarkText);
</script>
</body></html>
